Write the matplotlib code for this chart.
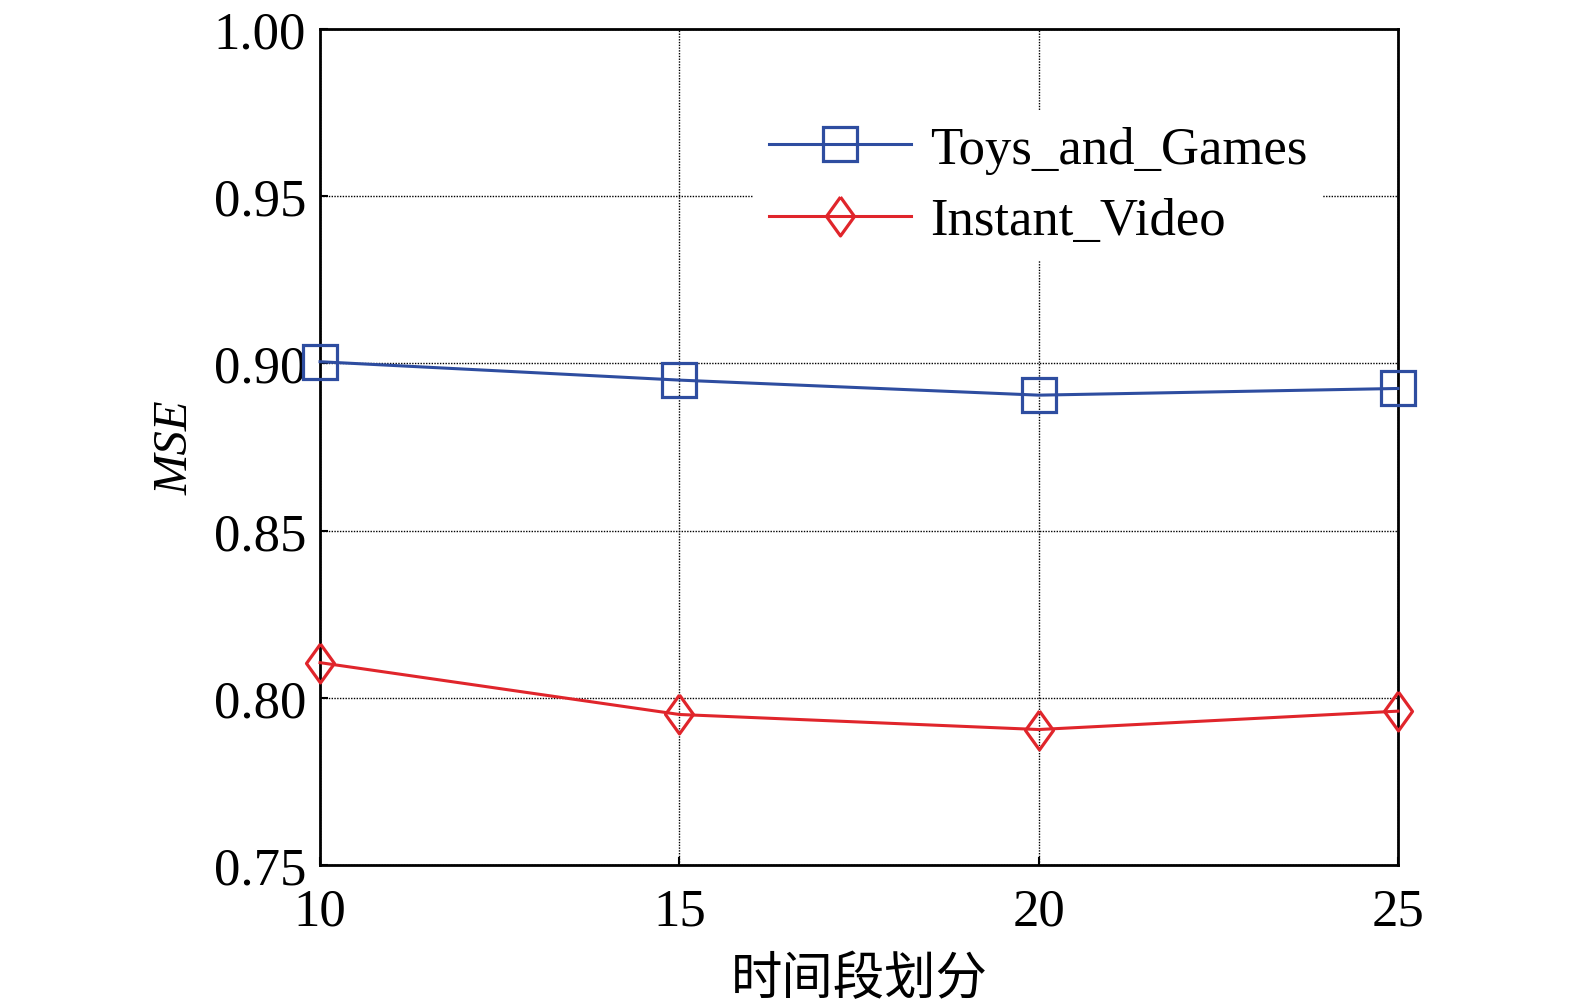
import numpy as np
import matplotlib
matplotlib.use("Agg")
import matplotlib.pyplot as plt

segments = [10, 15, 20, 25]
toys_mse = [0.9005, 0.8950, 0.8905, 0.8925]
video_mse = [0.8105, 0.7950, 0.7905, 0.7960]
y_ticks = [0.75, 0.80, 0.85, 0.90, 0.95, 1.00]

plt.rcParams['font.family'] = ['Liberation Serif', 'Noto Sans CJK SC']

# tall diamond like the original marker
tall_diamond = [(0, 1), (0.72, 0), (0, -1), (-0.72, 0), (0, 1)]

fig = plt.figure(figsize=(15.75, 10.04), dpi=100)
ax = fig.add_axes([0.2032, 0.1375, 0.6844, 0.8326])

ax.plot(segments, toys_mse, color="#2E4DA0", lw=2.2, marker="s", ms=24,
        mfc="none", mew=2.3, label="Toys_and_Games", clip_on=False, zorder=3)
ax.plot(segments, video_mse, color="#E0252B", lw=2.2, marker=tall_diamond, ms=28,
        mfc="none", mew=2.3, label="Instant_Video", clip_on=False, zorder=3)

ax.set_xlim(10, 25)
ax.set_ylim(0.75, 1.00)
ax.set_xticks(segments)
ax.set_yticks(y_ticks)
ax.set_yticklabels(["%.2f" % v for v in y_ticks])
ax.grid(True, color="black", linestyle=(0, (1, 1)), linewidth=1)
ax.tick_params(direction="in", length=6, width=1.5, labelsize=38, pad=10)
ax.tick_params(axis="x", pad=16)
for sp in ax.spines.values():
    sp.set_linewidth(2)

ax.set_ylabel("MSE", fontsize=35, style="italic", labelpad=12)
ax.set_xlabel("时间段划分", fontsize=37, family=["Noto Sans CJK SC"], labelpad=12)

leg = ax.legend(loc="upper right", bbox_to_anchor=(0.955, 0.935), fontsize=38,
                frameon=True, framealpha=1, edgecolor="white", fancybox=False,
                handlelength=2.7, handletextpad=0.35, labelspacing=0.45,
                borderpad=0.3)
leg.get_frame().set_linewidth(0)

fig.savefig("out.png", dpi=100)
